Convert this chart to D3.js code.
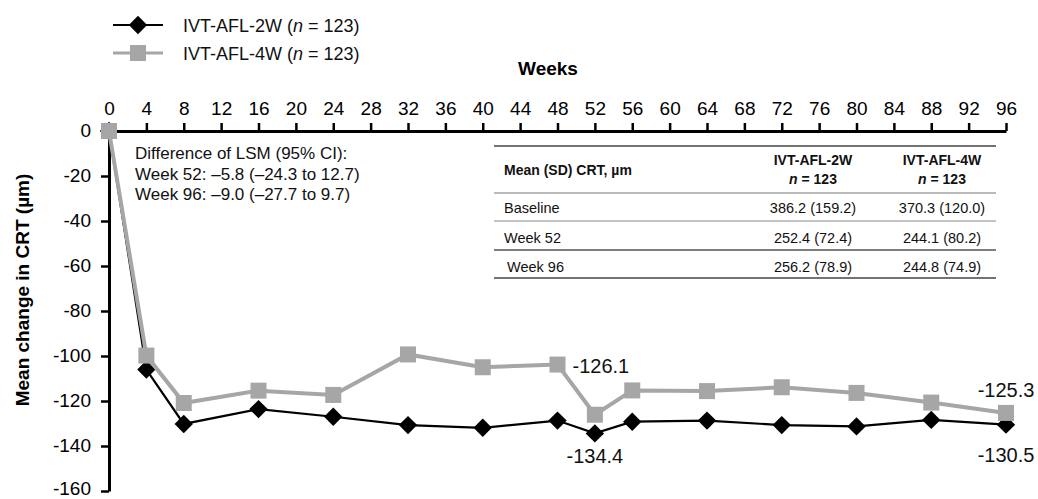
<!DOCTYPE html>
<html><head><meta charset="utf-8">
<script src="https://cdn.jsdelivr.net/npm/d3@7"></script>
<style>
html,body{margin:0;padding:0;background:#fff;}
svg{display:block;font-family:"Liberation Sans",Arial,sans-serif;}
</style></head>
<body>
<svg id="chart" width="1038" height="499"></svg>
<script>
const weeks = [0,4,8,16,24,32,40,48,52,56,64,72,80,88,96];
const afl2w = [0,-106,-130.2,-123.6,-127,-130.7,-131.9,-128.7,-134.4,-129.2,-128.7,-130.7,-131.3,-128.4,-130.5];
const afl4w = [0,-99.8,-120.9,-115.4,-117.3,-99.3,-105,-103.8,-126.1,-115.3,-115.6,-113.9,-116.4,-120.7,-125.3];
const xTicks = d3.range(0,97,4);
const yTicks = [0,-20,-40,-60,-80,-100,-120,-140,-160];
const seriesNames = ["IVT-AFL-2W","IVT-AFL-4W"];
const nPerArm = [123,123];
const lsmLines = ["Difference of LSM (95% CI):","Week 52: \u20135.8 (\u201324.3 to 12.7)","Week 96: \u20139.0 (\u201327.7 to 9.7)"];
const tableHeader = ["Mean (SD) CRT, \u00b5m","IVT-AFL-2W","IVT-AFL-4W"];
const tableRows = [
  ["Baseline","386.2 (159.2)","370.3 (120.0)"],
  ["Week 52","252.4 (72.4)","244.1 (80.2)"],
  ["Week 96","256.2 (78.9)","244.8 (74.9)"]
];
const valueLabels = [
  {series:1, week:52, text:"-126.1", pos:"left48"},
  {series:0, week:52, text:"-134.4", pos:"below"},
  {series:1, week:96, text:"-125.3", pos:"above"},
  {series:0, week:96, text:"-130.5", pos:"below2"}
];

const svg = d3.select("#chart");
const x = d3.scaleLinear().domain([0,96]).range([109,1006]);
const y = d3.scaleLinear().domain([0,-160]).range([131,491]);
const fmt = d => String(d);

// axes
const xAxis = svg.append("g").attr("transform",`translate(0,${y(0)})`)
  .call(d3.axisTop(x).tickValues(xTicks).tickFormat(fmt).tickSize(8).tickPadding(8).tickSizeOuter(0));
xAxis.select(".domain").attr("stroke","#000").attr("stroke-width",3);
xAxis.selectAll(".tick line").attr("stroke","#000").attr("stroke-width",2.5);
xAxis.selectAll(".tick text").attr("font-size",19).attr("fill","#000")
  .attr("font-family","Liberation Sans, Arial, sans-serif");

const yAxis = svg.append("g").attr("transform",`translate(${x(0)},0)`)
  .call(d3.axisLeft(y).tickValues(yTicks).tickFormat(fmt).tickSize(8).tickPadding(10).tickSizeOuter(0));
yAxis.select(".domain").attr("stroke","#000").attr("stroke-width",3);
yAxis.selectAll(".tick line").attr("stroke","#000").attr("stroke-width",2.5);
yAxis.selectAll(".tick text").attr("font-size",19).attr("fill","#000")
  .attr("dy",d=>d===-160?"0.18em":"0.3em")
  .attr("font-family","Liberation Sans, Arial, sans-serif");

svg.append("text").attr("x",548).attr("y",75).attr("text-anchor","middle")
  .attr("font-size",19).attr("font-weight","bold").text("Weeks");
svg.append("text").attr("transform",`translate(29,290) rotate(-90)`).attr("text-anchor","middle")
  .attr("font-size",19).attr("font-weight","bold").text("Mean change in CRT (\u00b5m)");

// annotation
const ann = svg.append("text").attr("x",135).attr("font-size",17).attr("fill","#111");
lsmLines.forEach((t,i)=>ann.append("tspan").attr("x",135).attr("y",159+i*20.5).text(t));

// table
const tX0 = 494, tX1 = 996, c1 = 813, c2 = 942, lx = 504;
const tg = svg.append("g").attr("font-size",14.5).attr("fill","#111");
[[146,"#444",1.5],[193,"#777",1.2],[221,"#888",1.2],[250,"#555",1.5],[278,"#444",1.5]].forEach(([yy,c,w])=>{
  tg.append("line").attr("x1",tX0).attr("x2",tX1).attr("y1",yy).attr("y2",yy).attr("stroke",c).attr("stroke-width",w);
});
tg.append("text").attr("x",lx).attr("y",175).attr("font-weight","bold").attr("font-size",14).text(tableHeader[0]);
[[c1,1],[c2,2]].forEach(([cx,i])=>{
  tg.append("text").attr("x",cx).attr("y",165).attr("text-anchor","middle").attr("font-weight","bold").attr("font-size",14).text(tableHeader[i]);
  const t = tg.append("text").attr("x",cx).attr("y",184).attr("text-anchor","middle").attr("font-weight","bold").attr("font-size",14);
  t.append("tspan").attr("font-style","italic").text("n");
  t.append("tspan").text(" = " + nPerArm[i-1]);
});
tableRows.forEach((r,i)=>{
  const yy = 213 + i*29.5;
  tg.append("text").attr("x",lx + (i===2?3:0)).attr("y",yy).text(r[0]);
  tg.append("text").attr("x",c1).attr("y",yy).attr("text-anchor","middle").text(r[1]);
  tg.append("text").attr("x",c2).attr("y",yy).attr("text-anchor","middle").text(r[2]);
});

// series
const line = d3.line().x(d=>x(d[0])).y(d=>y(d[1]));
const d2 = weeks.map((w,i)=>[w,afl2w[i]]);
const d4 = weeks.map((w,i)=>[w,afl4w[i]]);
const gray = "#a6a6a6";
svg.append("path").datum(d2).attr("d",line).attr("fill","none").attr("stroke","#000").attr("stroke-width",2.2);
svg.append("g").selectAll("rect").data(d2).join("rect")
  .attr("x",-6.5).attr("y",-6.5).attr("width",13).attr("height",13).attr("fill","#000")
  .attr("transform",d=>`translate(${x(d[0])},${y(d[1])}) rotate(45)`);
svg.append("path").datum(d4).attr("d",line).attr("fill","none").attr("stroke",gray).attr("stroke-width",4);
svg.append("g").selectAll("rect").data(d4).join("rect")
  .attr("x",d=>x(d[0])-8).attr("y",d=>y(d[1])-8).attr("width",16).attr("height",16).attr("fill",gray);

// value labels
valueLabels.forEach(l=>{
  const v = (l.series===0?afl2w:afl4w)[weeks.indexOf(l.week)];
  const px = x(l.week), py = y(v);
  const t = svg.append("text").attr("font-size",20).attr("fill","#111").text(l.text);
  if(l.pos==="left48") t.attr("x",x(48)+15).attr("y",py-42);
  else if(l.pos==="below") t.attr("x",px).attr("y",py+30).attr("text-anchor","middle");
  else if(l.pos==="below2") t.attr("x",px).attr("y",py+37).attr("text-anchor","middle");
  else t.attr("x",px).attr("y",py-16).attr("text-anchor","middle");
});

// legend
const lg = svg.append("g").attr("font-size",18).attr("fill","#111");
[[25,"#000",2.2,"d"],[53,gray,3,"s"]].forEach(([yy,c,w,m],i)=>{
  lg.append("line").attr("x1",113).attr("x2",163).attr("y1",yy).attr("y2",yy).attr("stroke",c).attr("stroke-width",w);
  if(m==="d") lg.append("rect").attr("x",-6.5).attr("y",-6.5).attr("width",13).attr("height",13).attr("fill",c)
    .attr("transform",`translate(138,${yy}) rotate(45)`);
  else lg.append("rect").attr("x",130).attr("y",yy-8).attr("width",16).attr("height",16).attr("fill",c);
  const t = lg.append("text").attr("x",183).attr("y",yy+6.5);
  t.append("tspan").text(seriesNames[i] + " (");
  t.append("tspan").attr("font-style","italic").text("n");
  t.append("tspan").text(" = " + nPerArm[i] + ")");
});
</script>
</body></html>
